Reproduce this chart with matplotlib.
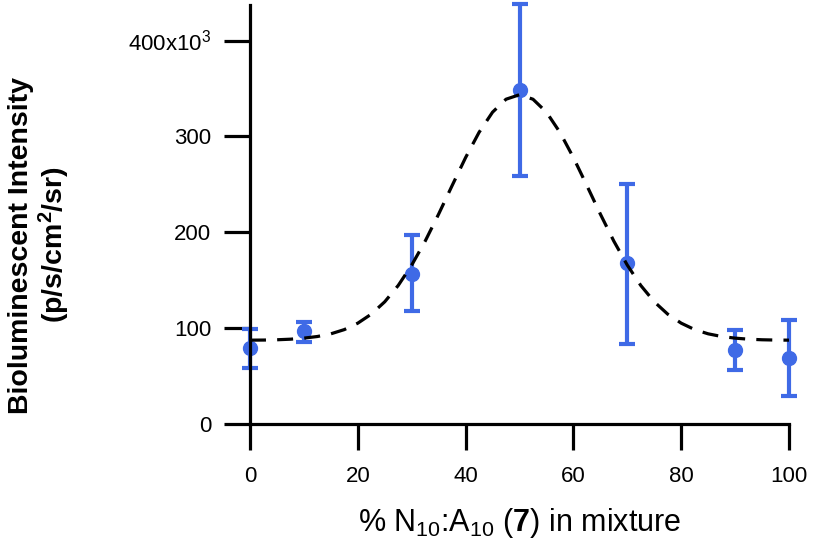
import numpy as np
from matplotlib import pyplot as plt

plt.rcParams['font.family'] = ['Liberation Sans', 'DejaVu Sans']
plt.rcParams['mathtext.fontset'] = 'custom'
plt.rcParams['mathtext.rm'] = 'Liberation Sans'
plt.rcParams['mathtext.it'] = 'Liberation Sans:italic'
plt.rcParams['mathtext.bf'] = 'Liberation Sans:bold'

# measured points (% N10:A10 in mixture, intensity)
pct = [0, 10, 30, 50, 70, 90, 100]
intensity = [79000, 97000, 157000, 348000, 168000, 77000, 69000]
err_low = [59000, 86000, 118000, 259000, 84000, 57000, 29000]
err_high = [99000, 107000, 197000, 438000, 250000, 98000, 109000]

# dashed fit curve
fit_x = [0, 2.5, 5, 7.5, 10, 12.5, 15, 17.5, 20, 22.5, 25, 27.5, 30, 32.5, 35, 37.5,
         40, 42.5, 45, 47.5, 50, 52.5, 55, 57.5, 60, 62.5, 65, 67.5, 70, 72.5, 75,
         77.5, 80, 82.5, 85, 87.5, 90, 92.5, 95, 97.5, 100]
fit_y = [87.7, 87.8, 88.1, 88.7, 89.8, 91.5, 94.3, 98.7, 105.4, 114.8, 127.7, 144.7,
         165.9, 190.9, 219.1, 248.8, 278.0, 304.3, 325.3, 338.8, 343.5, 338.8, 325.3,
         304.3, 278.0, 248.8, 219.1, 190.9, 165.9, 144.7, 127.7, 114.8, 105.4, 98.7,
         94.3, 91.5, 89.8, 88.7, 88.1, 87.8, 87.7]
fit_y = [v * 1000 for v in fit_y]

yticks = [0, 100000, 200000, 300000, 400000]
ytick_labels = ['0', '100', '200', '300', '400x10$^3$']
xticks = [0, 20, 40, 60, 80, 100]

blue = '#3f6ae6'

fig = plt.figure(figsize=(8.13, 5.47), dpi=100)
ax = fig.add_axes([250/813, 1-424.3/547, 539/813, 419.3/547])

ax.plot(fit_x, fit_y, color='black', lw=2.3, ls=(0, (5, 3.5)), zorder=3)

yerr = [np.array(intensity) - np.array(err_low), np.array(err_high) - np.array(intensity)]
ax.errorbar(pct, intensity, yerr=yerr, fmt='o', color=blue, ms=10, elinewidth=3,
            capsize=6, capthick=3, zorder=2, clip_on=False)

ax.set_xlim(0, 100)
ax.set_ylim(0, 437000)
ax.set_xticks(xticks)
ax.set_yticks(yticks)
ax.set_yticklabels(ytick_labels)
for s in ['top', 'right']:
  ax.spines[s].set_visible(False)
for s in ['left', 'bottom']:
  ax.spines[s].set_linewidth(2.3)
ax.tick_params(length=19, width=2.3, labelsize=16)
ax.tick_params(axis='x', pad=11)
ax.tick_params(axis='y', pad=9)

fig.text(520/813, 1-523/547, '% N$_{10}$:A$_{10}$ ($\\mathbf{7}$) in mixture',
         ha='center', va='center', fontsize=22)
fig.text(40/813, 1-245/547, 'Bioluminescent Intensity\n(p/s/cm$^\\mathbf{2}$/sr)',
         rotation=90, ha='center', va='center', fontsize=20.5, fontweight='bold',
         multialignment='center', linespacing=1.1)

fig.savefig('out.png', dpi=100)
